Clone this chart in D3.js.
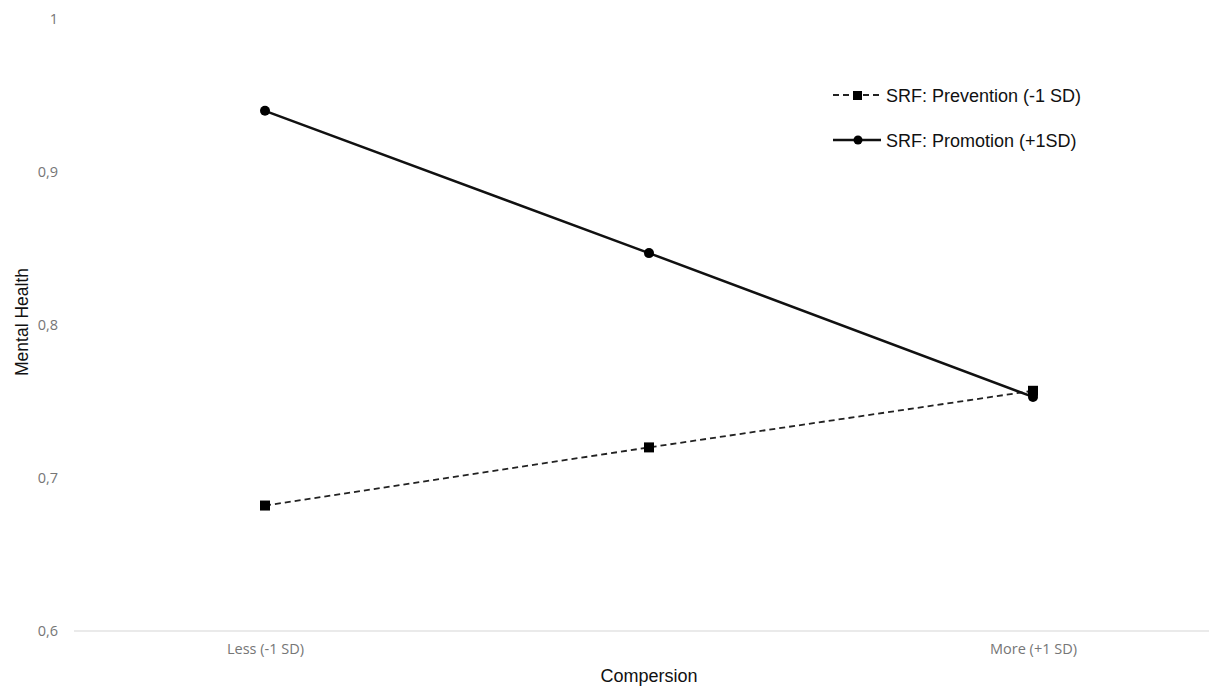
<!DOCTYPE html>
<html><head><meta charset="utf-8">
<script src="https://cdn.jsdelivr.net/npm/d3@7"></script>
<style>body{margin:0;background:#fff}svg{display:block}</style>
</head><body>
<svg id="c" width="1209" height="688"></svg>
<script>
const categories = ["Less (-1 SD)", "Mid", "More (+1 SD)"];
const xTickLabels = ["Less (-1 SD)", "", "More (+1 SD)"];
const prevention = [0.682, 0.720, 0.757];
const promotion = [0.940, 0.847, 0.753];
const yTicks = [0.6, 0.7, 0.8, 0.9, 1];
const seriesNames = ["SRF: Prevention (-1 SD)", "SRF: Promotion (+1SD)"];

const svg = d3.select("#c");
const x = d3.scalePoint().domain(categories).range([265, 1033]);
const y = d3.scaleLinear().domain([0.6, 1]).range([631, 19]);

// baseline
svg.append("line").attr("x1", 74).attr("x2", 1209).attr("y1", y(0.6)).attr("y2", y(0.6))
  .attr("stroke", "#e3e3e3").attr("stroke-width", 1.5);

// y axis labels
const yAxis = d3.axisLeft(y).tickValues(yTicks).tickSize(0).tickPadding(0)
  .tickFormat(d => d3.format(".1~f")(d).replace(".", ","));
const gy = svg.append("g").attr("transform", "translate(58,0)").call(yAxis);
gy.select(".domain").remove();
gy.selectAll("text").attr("fill", "#767676").style("font-family", "'Open Sans', sans-serif").style("font-size", "14.5px");

// x axis labels
const xAxis = d3.axisBottom(x).tickSize(0).tickPadding(0).tickFormat((d, i) => xTickLabels[i]);
const gx = svg.append("g").attr("transform", "translate(0,644)").call(xAxis);
gx.select(".domain").remove();
gx.selectAll("text").attr("fill", "#767676").style("font-family", "'Open Sans', sans-serif").style("font-size", "14.5px");

// axis titles
svg.append("text").attr("x", 649).attr("y", 682).attr("text-anchor", "middle")
  .style("font-family", "'Liberation Sans', Arial, sans-serif").style("font-size", "18px").attr("fill", "#111").text("Compersion");
svg.append("text").attr("transform", "translate(28,322) rotate(-90)").attr("text-anchor", "middle")
  .style("font-family", "'Liberation Sans', Arial, sans-serif").style("font-size", "17.5px").attr("fill", "#111").text("Mental Health");

const line = d3.line().x((d, i) => x(categories[i])).y(d => y(d));

// prevention dashed
svg.append("path").datum(prevention).attr("d", line).attr("fill", "none")
  .attr("stroke", "#222").attr("stroke-width", 1.8).attr("stroke-dasharray", "6,4");
// promotion solid
svg.append("path").datum(promotion).attr("d", line).attr("fill", "none")
  .attr("stroke", "#111").attr("stroke-width", 2.5);

svg.selectAll(".sq").data(prevention).join("rect").attr("class", "sq")
  .attr("x", (d, i) => x(categories[i]) - 5).attr("y", d => y(d) - 5)
  .attr("width", 10).attr("height", 10).attr("fill", "#000");
svg.selectAll(".ci").data(promotion).join("circle").attr("class", "ci")
  .attr("cx", (d, i) => x(categories[i])).attr("cy", d => y(d)).attr("r", 5).attr("fill", "#000");

// legend
const lg = svg.append("g");
lg.append("line").attr("x1", 833).attr("x2", 881).attr("y1", 95).attr("y2", 95)
  .attr("stroke", "#222").attr("stroke-width", 1.8).attr("stroke-dasharray", "6,4");
lg.append("rect").attr("x", 853).attr("y", 91).attr("width", 9).attr("height", 9).attr("fill", "#000");
lg.append("line").attr("x1", 833).attr("x2", 881).attr("y1", 140).attr("y2", 140)
  .attr("stroke", "#111").attr("stroke-width", 2.5);
lg.append("circle").attr("cx", 858).attr("cy", 140).attr("r", 4.5).attr("fill", "#000");
lg.selectAll("text").data(seriesNames).join("text")
  .attr("x", 886).attr("y", (d, i) => 101.5 + i * 45)
  .style("font-family", "'Liberation Sans', Arial, sans-serif").style("font-size", "18px").attr("fill", "#111")
  .text(d => d);
</script>
</body></html>
